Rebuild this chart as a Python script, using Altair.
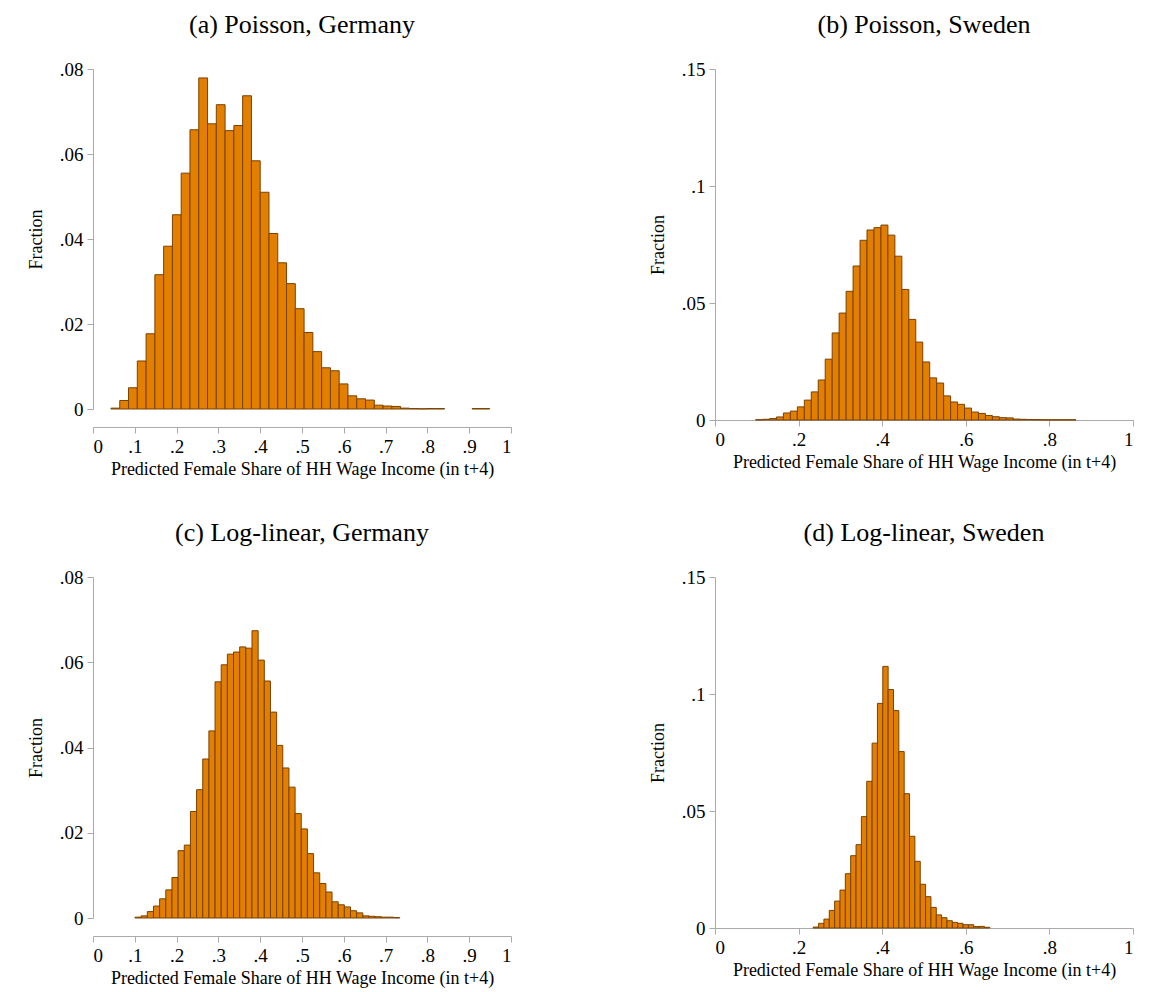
import altair as alt
import pandas as pd

# (a) Poisson, Germany
a_start, a_width = 0.043, 0.021
a_vals = [0.0002,0.002,0.005,0.0113,0.0177,0.0316,0.0383,0.0457,0.0555,0.0657,0.0779,0.0671,0.0716,0.0655,
          0.0667,0.0737,0.0584,0.051,0.0413,0.0344,0.0295,0.0236,0.018,0.0135,0.0097,0.009,0.0059,0.0031,
          0.0024,0.0021,0.0009,0.0007,0.0006,0.0002,0.0001,0.00005,0.0001,0.0001]
a_extra_x = [0.907, 0.928]
a_extra_v = [0.0001, 0.0001]

# (b) Poisson, Sweden
b_start, b_width = 0.097, 1/60
b_vals = [0.0001,0.0003,0.0006,0.0013,0.003,0.0038,0.0056,0.0085,0.012,0.0171,0.026,0.0372,0.0457,0.055,
          0.0658,0.0768,0.0812,0.0822,0.0833,0.079,0.07,0.0558,0.043,0.0333,0.0248,0.018,0.0158,0.0103,
          0.0077,0.0067,0.0051,0.0034,0.0028,0.0019,0.0014,0.001,0.0009,0.0004,0.0003,0.0002,0.0002,
          0.0001,0.0001,0.0001,0.0001,0.0001]

# (c) Log-linear, Germany
c_start, c_width = 0.1005, 0.01473
c_vals = [0.0002,0.0005,0.0015,0.0028,0.0045,0.0066,0.0095,0.0158,0.0171,0.025,0.0301,0.0373,0.0439,0.0554,
          0.0594,0.0619,0.0624,0.0636,0.0633,0.0674,0.0605,0.0556,0.0483,0.0405,0.0352,0.0307,0.0245,
          0.0209,0.0151,0.0106,0.0081,0.0061,0.0038,0.0031,0.0026,0.0017,0.0012,0.0005,0.0004,0.0003,
          0.0002,0.0002,0.0001]

# (d) Log-linear, Sweden
d_start, d_width = 0.235, 0.0128
d_vals = [0.0004,0.002,0.0038,0.0075,0.0115,0.0162,0.0232,0.0309,0.0356,0.0476,0.0627,0.079,0.096,0.1118,
          0.1019,0.0929,0.0754,0.0574,0.0392,0.0285,0.0187,0.0134,0.0088,0.0056,0.0044,0.0031,0.0024,
          0.002,0.0014,0.0014,0.0006,0.0007,0.0003]

ger_xticks = [i / 10 for i in range(11)]
swe_xticks = [0, 0.2, 0.4, 0.6, 0.8, 1]
ger_yticks = [0, 0.02, 0.04, 0.06, 0.08]
swe_yticks = [0, 0.05, 0.1, 0.15]

ORANGE = "#E27F00"
EDGE = "#7A4100"
FONT = "Liberation Serif"
XTITLE = "Predicted Female Share of  HH Wage Income (in t+4)"
XTITLE2 = "Predicted Female Share of HH Wage Income (in t+4)"

LBL = "datum.value==0?'0':datum.value==1?'1':replace(toString(datum.value),'0.','.')"


def frame(start, width, vals, ex_x=(), ex_v=()):
    xs = [start + i * width for i in range(len(vals))] + list(ex_x)
    vs = list(vals) + list(ex_v)
    return pd.DataFrame({"x": xs, "x2": [v + width for v in xs], "y": vs})


def panel(df, title, ymax, yticks, xticks, h, xoffset, xtitle):
    return alt.Chart(df, title=alt.TitleParams(title, font=FONT, fontSize=26, fontWeight="normal",
                                               color="black", offset=22)).mark_rect(
        color=ORANGE, stroke=EDGE, strokeWidth=1
    ).encode(
        x=alt.X("x:Q", scale=alt.Scale(domain=[0, 1], nice=False),
                axis=alt.Axis(values=xticks, labelExpr=LBL, title=xtitle, offset=xoffset, grid=False)),
        x2="x2:Q",
        y=alt.Y("y:Q", scale=alt.Scale(domain=[0, ymax], nice=False),
                axis=alt.Axis(values=yticks, labelExpr=LBL, title="Fraction", grid=False)),
        y2=alt.datum(0),
    ).properties(width=418, height=h)


pa = panel(frame(a_start, a_width, a_vals, a_extra_x, a_extra_v), "(a) Poisson, Germany", 0.08, ger_yticks, ger_xticks, 340, 18, XTITLE)
pb = panel(frame(b_start, b_width, b_vals), "(b) Poisson, Sweden", 0.15, swe_yticks, swe_xticks, 351, 0, XTITLE2)
pc = panel(frame(c_start, c_width, c_vals), "(c) Log-linear, Germany", 0.08, ger_yticks, ger_xticks, 341, 18, XTITLE)
pd_ = panel(frame(d_start, d_width, d_vals), "(d) Log-linear, Sweden", 0.15, swe_yticks, swe_xticks, 351, 0, XTITLE2)

chart = alt.hconcat(
    alt.vconcat(pa, pc, spacing=42),
    alt.vconcat(pb, pd_, spacing=49),
    spacing=137,
).properties(
    padding={"left": 19, "top": 4, "right": 5, "bottom": 5}
).configure_axis(
    labelFont=FONT, titleFont=FONT, labelFontSize=19, titleFontSize=18, titleFontWeight="normal",
    labelColor="black", titleColor="black", domainColor="#aaaaaa", tickColor="#aaaaaa",
    tickSize=6, labelPadding=4,
).configure_axisY(labelAngle=0, titlePadding=14).configure_view(stroke=None)

chart.save("out.html", embed_options={"renderer": "svg", "actions": False})
